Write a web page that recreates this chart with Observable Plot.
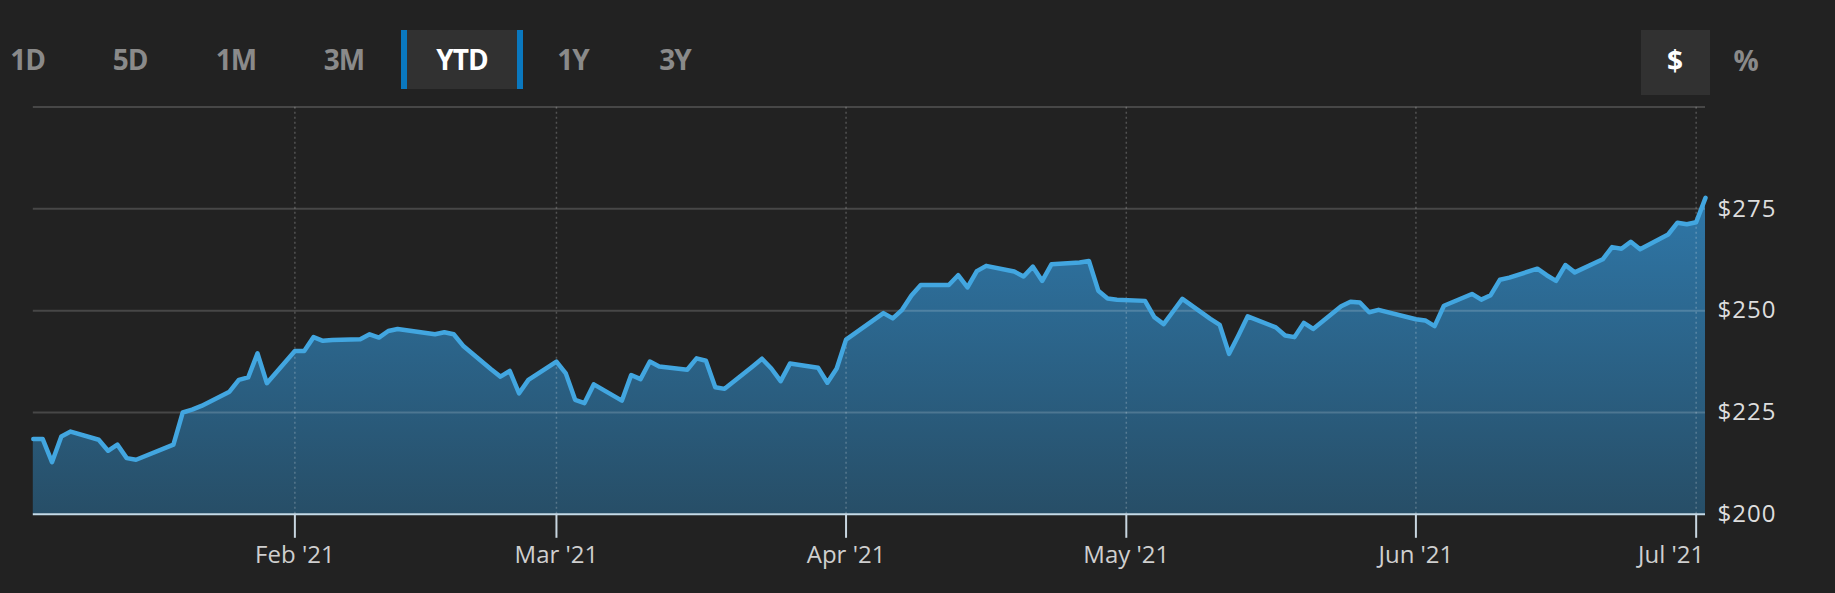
<!DOCTYPE html>
<html>
<head>
<meta charset="utf-8">
<script src="https://cdn.jsdelivr.net/npm/d3@7"></script>
<script src="https://cdn.jsdelivr.net/npm/@observablehq/plot@0.6"></script>
<style>
  html, body { margin: 0; padding: 0; background: #222222; overflow: hidden; }
  #header { position: relative; width: 1835px; height: 92px; font-family: "Open Sans", sans-serif; }
  .btn { position: absolute; width: 100px; text-align: center; font-size: 28px; line-height: 28px; font-weight: 700; color: #8a8a8a; letter-spacing: -1px; }
  .btn.active { color: #ffffff; }
  .box { position: absolute; background: #313131; }
  .bar { position: absolute; background: #0a78bf; }
  g[aria-label="y-axis tick label"] { letter-spacing: 1px; }
</style>
</head>
<body>
<div id="header"></div>
<div id="chart"></div>
<script>
// ---- data ----
const dates = [
  "2021-01-04","2021-01-05","2021-01-06","2021-01-07","2021-01-08",
  "2021-01-11","2021-01-12","2021-01-13","2021-01-14","2021-01-15",
  "2021-01-19","2021-01-20","2021-01-21","2021-01-22",
  "2021-01-25","2021-01-26","2021-01-27","2021-01-28","2021-01-29",
  "2021-02-01","2021-02-02","2021-02-03","2021-02-04","2021-02-05",
  "2021-02-08","2021-02-09","2021-02-10","2021-02-11","2021-02-12",
  "2021-02-16","2021-02-17","2021-02-18","2021-02-19",
  "2021-02-22","2021-02-23","2021-02-24","2021-02-25","2021-02-26",
  "2021-03-01","2021-03-02","2021-03-03","2021-03-04","2021-03-05",
  "2021-03-08","2021-03-09","2021-03-10","2021-03-11","2021-03-12",
  "2021-03-15","2021-03-16","2021-03-17","2021-03-18","2021-03-19",
  "2021-03-22","2021-03-23","2021-03-24","2021-03-25","2021-03-26",
  "2021-03-29","2021-03-30","2021-03-31","2021-04-01",
  "2021-04-05","2021-04-06","2021-04-07","2021-04-08","2021-04-09",
  "2021-04-12","2021-04-13","2021-04-14","2021-04-15","2021-04-16",
  "2021-04-19","2021-04-20","2021-04-21","2021-04-22","2021-04-23",
  "2021-04-26","2021-04-27","2021-04-28","2021-04-29","2021-04-30",
  "2021-05-03","2021-05-04","2021-05-05","2021-05-06","2021-05-07",
  "2021-05-10","2021-05-11","2021-05-12","2021-05-13","2021-05-14",
  "2021-05-17","2021-05-18","2021-05-19","2021-05-20","2021-05-21",
  "2021-05-24","2021-05-25","2021-05-26","2021-05-27","2021-05-28",
  "2021-06-01","2021-06-02","2021-06-03","2021-06-04",
  "2021-06-07","2021-06-08","2021-06-09","2021-06-10","2021-06-11",
  "2021-06-14","2021-06-15","2021-06-16","2021-06-17","2021-06-18",
  "2021-06-21","2021-06-22","2021-06-23","2021-06-24","2021-06-25",
  "2021-06-28","2021-06-29","2021-06-30","2021-07-01","2021-07-02"
];
const prices = [
  218.5,218.5,212.8,219.1,220.3,
  218.3,215.6,217.1,213.8,213.4,
  217.1,225.0,225.7,226.6,
  230.1,233.0,233.6,239.5,232.2,
  240.1,240.1,243.5,242.6,242.8,
  243.0,244.2,243.4,245.0,245.5,
  244.2,244.7,244.2,241.4,
  235.6,233.8,235.2,229.7,233.0,
  237.5,234.6,228.1,227.3,231.9,
  227.9,234.2,233.2,237.5,236.3,
  235.5,238.3,237.7,231.2,230.8,
  236.3,238.2,235.8,232.7,237.0,
  236.0,232.3,235.8,242.9,
  249.4,248.1,250.2,253.7,256.3,
  256.3,258.7,255.7,259.7,261.0,
  259.6,258.4,260.8,257.3,261.4,
  261.8,262.2,254.9,253.0,252.7,
  252.4,248.4,246.7,249.8,252.9,
  248.0,246.5,239.4,243.9,248.6,
  245.9,243.9,243.5,247.0,245.5,
  251.1,252.2,252.0,249.6,250.2,
  247.9,247.6,246.2,251.2,
  254.1,252.7,253.8,257.6,258.1,
  260.3,258.7,257.3,261.2,259.4,
  262.6,265.6,265.2,266.9,265.1,
  268.7,271.6,271.2,271.7,277.7
];
const monthTicks = ["2021-02-01","2021-03-01","2021-04-01","2021-05-01","2021-06-01","2021-07-01"];
const yTickValues = [200, 225, 250, 275];
const gridValues = [225, 250, 275, 300];
const xDomain = ["2021-01-04", "2021-07-02"];
const yDomain = [200, 300];
const rangeButtons = ["1D","5D","1M","3M","YTD","1Y","3Y"];
const activeRange = "YTD";
const unitButtons = ["$","%"];
const activeUnit = "$";

// ---- header (buttons) ----
const header = document.getElementById("header");
const rangeCenters = [27.7, 130, 236, 344, 462, 573, 675];
rangeButtons.forEach((b, i) => {
  const cx = rangeCenters[i];
  if (b === activeRange) {
    const box = document.createElement("div");
    box.className = "box";
    Object.assign(box.style, {left: "401px", top: "30px", width: "122px", height: "59px"});
    header.appendChild(box);
    for (const l of [401, 517]) {
      const bar = document.createElement("div");
      bar.className = "bar";
      Object.assign(bar.style, {left: l + "px", top: "30px", width: "6px", height: "59px"});
      header.appendChild(bar);
    }
  }
  const s = document.createElement("div");
  s.className = "btn" + (b === activeRange ? " active" : "");
  s.textContent = b;
  Object.assign(s.style, {left: (cx - 50) + "px", top: "44.5px"});
  header.appendChild(s);
});
const unitCenters = [1675, 1746];
unitButtons.forEach((b, i) => {
  if (b === activeUnit) {
    const box = document.createElement("div");
    box.className = "box";
    Object.assign(box.style, {left: "1641px", top: "30px", width: "69px", height: "65px"});
    header.appendChild(box);
  }
  const s = document.createElement("div");
  s.className = "btn" + (b === activeUnit ? " active" : "");
  s.textContent = b;
  Object.assign(s.style, {left: (unitCenters[i] - 50) + "px", top: "46px", letterSpacing: "0"});
  header.appendChild(s);
});

// ---- chart ----
const parse = d3.utcParse("%Y-%m-%d");
const data = dates.map((d, i) => ({date: parse(d), price: prices[i]}));
const ticks = monthTicks.map(parse);
const innerTicks = ticks.slice(0, -1);
const lastTick = ticks.slice(-1);
const fmt = d3.utcFormat("%b '%y");

const W = 1835, H = 501;
const mTop = 14.5, mBottom = 79.2, mLeft = 32.8, mRight = 130;

const xAxisStyle = {label: null, tickFormat: fmt,
  stroke: "#c8d6e0", strokeWidth: 2, color: "#cfcfcf", fontSize: 24};

const svg = Plot.plot({
  width: W,
  height: H,
  marginTop: mTop,
  marginBottom: mBottom,
  marginLeft: mLeft,
  marginRight: mRight,
  style: {background: "#222222", color: "#cccccc", fontFamily: "'Open Sans', sans-serif", overflow: "visible"},
  x: {type: "utc", domain: xDomain.map(parse), label: null},
  y: {domain: yDomain, label: null},
  marks: [
    Plot.areaY(data, {x: "date", y1: yDomain[0], y2: "price", fill: "url(#areaGrad)"}),
    Plot.ruleY(gridValues, {stroke: "#ffffff", strokeOpacity: 0.17, strokeWidth: 2}),
    Plot.ruleX(ticks, {y1: yDomain[0], y2: yDomain[1], stroke: "#ffffff", strokeOpacity: 0.22, strokeWidth: 1.5, strokeDasharray: "2,3"}),
    Plot.lineY(data, {x: "date", y: "price", stroke: "#42a6e0", strokeWidth: 4.5, strokeLinejoin: "round", strokeLinecap: "round"}),
    Plot.ruleY([yDomain[0]], {stroke: "#c4dae8", strokeWidth: 2}),
    Plot.axisX({ticks: innerTicks, tickSize: 24, tickPadding: 8, ...xAxisStyle}),
    Plot.axisX({ticks: lastTick, tickSize: 24, text: null, ...xAxisStyle}),
    Plot.axisX({ticks: lastTick, tickSize: 0, tickPadding: 32, textAnchor: "end", dx: 8, ...xAxisStyle}),
    Plot.axisY({anchor: "right", ticks: yTickValues, tickFormat: d => "$" + d, tickSize: 0, tickPadding: 12, label: null,
      color: "#dddddd", fontSize: 24})
  ]
});

const defs = d3.select(svg).insert("defs", ":first-child");
const grad = defs.append("linearGradient")
  .attr("id", "areaGrad")
  .attr("gradientUnits", "userSpaceOnUse")
  .attr("x1", 0).attr("x2", 0)
  .attr("y1", mTop).attr("y2", H - mBottom);
grad.append("stop").attr("offset", "0%").attr("stop-color", "#3183bb");
grad.append("stop").attr("offset", "100%").attr("stop-color", "#274e67");

document.getElementById("chart").appendChild(svg);
</script>
</body>
</html>
